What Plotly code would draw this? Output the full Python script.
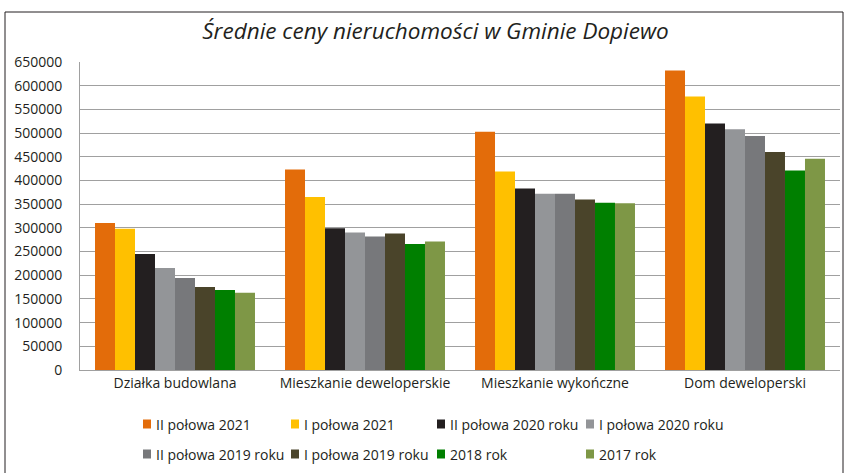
import plotly.graph_objects as go

kategorie = ["Działka budowlana", "Mieszkanie deweloperskie", "Mieszkanie wykończne", "Dom deweloperski"]

serie = [
    "II połowa 2021", "I połowa 2021", "II połowa 2020 roku", "I połowa 2020 roku",
    "II połowa 2019 roku", "I połowa 2019 roku", "2018 rok", "2017 rok",
]

ii_2021 = [310000, 423000, 503000, 632000]
i_2021 = [298000, 365000, 419000, 577000]
ii_2020 = [245000, 299000, 383000, 520000]
i_2020 = [215000, 290000, 372000, 508000]
ii_2019 = [194000, 282000, 372000, 494000]
i_2019 = [175000, 288000, 360000, 460000]
rok_2018 = [169000, 266000, 353000, 421000]
rok_2017 = [163000, 271000, 352000, 446000]

wartosci = [ii_2021, i_2021, ii_2020, i_2020, ii_2019, i_2019, rok_2018, rok_2017]
kolory = ["#E36C0A", "#FFC000", "#231F20", "#939598", "#77787B", "#4A442A", "#007F00", "#7E9746"]

FONT = "Open Sans, sans-serif"
W, H = 846, 473
L, R, T, B = 80, 6, 62, 103


def px_x(px):
    return (px - L) / (W - L - R)


def px_y(py):
    return (H - B - py) / (H - T - B)


fig = go.Figure()
for nazwa, y, kolor in zip(serie, wartosci, kolory):
    fig.add_trace(go.Bar(name=nazwa, x=kategorie, y=y,
                         marker=dict(color=kolor, line=dict(width=0))))

# legenda rysowana recznie: 2 wiersze po 4 pozycje
kolumny = [143, 291, 437, 586]
wiersze = [424, 454]
ksztalty = []
napisy = []
for i, (nazwa, kolor) in enumerate(zip(serie, kolory)):
    kx = kolumny[i % 4]
    ky = wiersze[i // 4]
    ksztalty.append(dict(type="rect", xref="paper", yref="paper",
                         xsizemode="pixel", ysizemode="pixel",
                         xanchor=px_x(kx), yanchor=px_y(ky),
                         x0=0, x1=8, y0=-4.5, y1=4.5,
                         line=dict(width=0), fillcolor=kolor))
    napisy.append(dict(text=nazwa, xref="paper", yref="paper",
                       x=px_x(kx + 11), y=px_y(ky), xanchor="left", yanchor="middle",
                       showarrow=False, font=dict(family=FONT, size=14, color="#231F20")))

ksztalty.append(dict(type="rect", xref="paper", yref="paper",
                     x0=px_x(5), x1=px_x(843), y0=px_y(490), y1=px_y(12),
                     line=dict(color="#231F20", width=1), fillcolor="rgba(0,0,0,0)"))

fig.update_layout(
    width=W, height=H,
    barmode="group", bargap=0.158, bargroupgap=0,
    showlegend=False,
    plot_bgcolor="white", paper_bgcolor="white",
    margin=dict(l=L, r=R, t=T, b=B),
    font=dict(family=FONT, size=14, color="#231F20"),
    title=dict(
        text="<i>Średnie ceny nieruchomości w Gminie Dopiewo</i>",
        x=px_x(435.5), xref="paper", xanchor="center",
        y=1 - 31 / H, yref="container", yanchor="middle",
        font=dict(family=FONT, size=22.5, color="#231F20"),
    ),
    xaxis=dict(showline=True, linecolor="#A0A0A0", linewidth=1, ticks="",
               tickfont=dict(size=14)),
    yaxis=dict(range=[0, 650000], dtick=50000, showgrid=True, gridcolor="#A0A0A0",
               gridwidth=1, showline=True, linecolor="#A0A0A0", zeroline=False,
               tickformat="d", ticklabelstandoff=14, tickfont=dict(size=14)),
    shapes=ksztalty,
    annotations=napisy,
)

# bez domyslnego marginesu strony, zeby wykres zaczynal sie w rogu okna
fig.write_html("out.html", config={"displayModeBar": False},
               post_script="document.body.style.margin='0';")
